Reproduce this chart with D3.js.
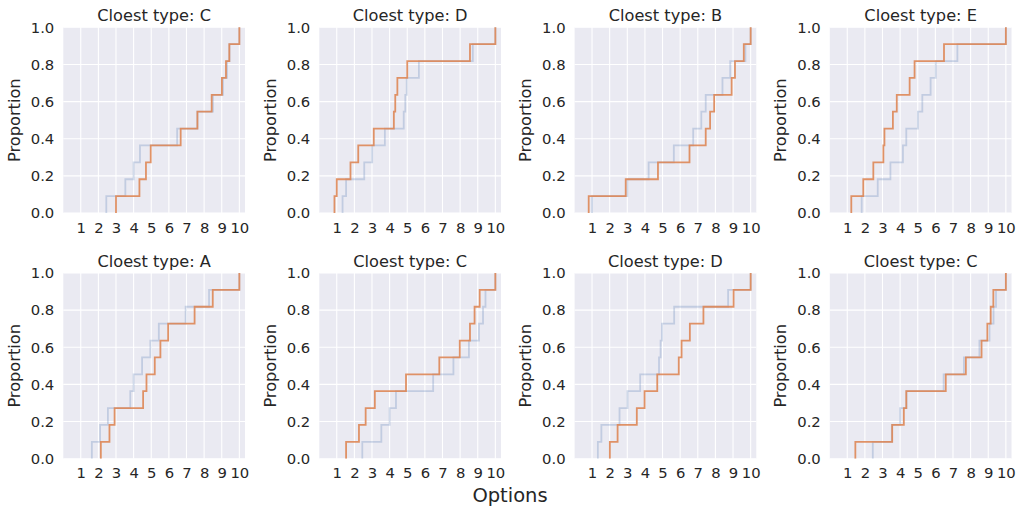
<!DOCTYPE html>
<html>
<head>
<meta charset="utf-8">
<script src="https://cdn.jsdelivr.net/npm/d3@7"></script>
<style>
  html, body { margin: 0; padding: 0; background: #ffffff; }
  svg { display: block; font-family: "DejaVu Sans", sans-serif; }
</style>
</head>
<body>
<svg id="chart" width="1016" height="507"></svg>
<script>
// Panel titles: the type each respondent profile is closest to
const closestTypes = ["C", "D", "B", "E", "A", "C", "D", "C"];

// Reference ECDF curves for each type (option values, sorted)
const typeCurveA = [1.63, 2.10, 2.54, 3.81, 4.00, 4.48, 4.95, 5.43, 6.95, 8.28, 10.0];
const typeCurveB = [1.00, 3.00, 4.21, 5.64, 6.74, 7.20, 7.45, 8.40, 8.84, 9.70, 10.0];
const typeCurveC = [2.45, 3.53, 4.00, 4.36, 6.47, 7.62, 8.50, 9.07, 9.30, 9.44, 10.0];
const typeCurveD = [1.33, 1.53, 2.56, 3.01, 3.73, 4.80, 4.89, 4.97, 5.66, 8.72, 10.0];
const typeCurveE = [1.82, 2.73, 3.45, 4.16, 4.35, 5.01, 5.26, 5.73, 6.02, 7.25, 10.0];

// Observed option values for each profile
const profile1 = [3.00, 4.33, 4.70, 4.97, 6.67, 7.62, 8.43, 9.01, 9.24, 9.43, 10.0];
const profile2 = [0.87, 1.00, 1.78, 2.22, 3.10, 4.24, 4.32, 4.44, 5.00, 8.56, 10.0];
const profile3 = [0.81, 2.91, 4.74, 6.53, 7.45, 7.70, 7.93, 8.92, 9.11, 9.61, 10.0];
const profile4 = [1.23, 1.91, 2.48, 3.05, 3.11, 3.59, 3.81, 4.54, 4.82, 6.49, 10.0];
const profile5 = [2.14, 2.63, 2.92, 4.54, 4.73, 5.20, 5.52, 5.96, 7.46, 8.49, 10.0];
const profile6 = [1.53, 2.26, 2.64, 3.16, 4.93, 6.82, 7.98, 8.56, 8.82, 9.11, 10.0];
const profile7 = [2.01, 2.45, 3.54, 3.98, 4.70, 5.92, 6.08, 6.55, 7.32, 9.03, 10.0];
const profile8 = [1.46, 3.55, 4.21, 4.35, 6.59, 7.73, 8.62, 8.95, 9.14, 9.29, 10.0];

const xTickValues = [1, 2, 3, 4, 5, 6, 7, 8, 9, 10];
const yTickValues = [0, 0.2, 0.4, 0.6, 0.8, 1.0];

const typeCurves = { A: typeCurveA, B: typeCurveB, C: typeCurveC, D: typeCurveD, E: typeCurveE };
const profiles = [profile1, profile2, profile3, profile4, profile5, profile6, profile7, profile8];

const svg = d3.select("#chart");

const colLefts = [63.3, 319.3, 574.6, 829.8];
const rowTops = [27.3, 273.0];
const plotW = 181.7;
const plotH = 185.7;

const x = d3.scaleLinear().domain([0.01, 10.32]).range([0, plotW]);
const y = d3.scaleLinear().domain([0, 1]).range([plotH, 0]);

// ECDF as a post-step line starting at (first value, 0)
function ecdfPoints(vals) {
  const sorted = vals.slice().sort((a, b) => a - b);
  const n = sorted.length;
  const pts = [[sorted[0], 0]];
  sorted.forEach((v, i) => pts.push([v, (i + 1) / n]));
  return pts;
}

const stepLine = d3.line()
  .x(d => x(d[0]))
  .y(d => y(d[1]))
  .curve(d3.curveStepAfter);

const textColor = "#262626";

profiles.forEach((obs, k) => {
  const row = Math.floor(k / 4), col = k % 4;
  const g = svg.append("g")
    .attr("transform", `translate(${colLefts[col]},${rowTops[row]})`);

  g.append("rect")
    .attr("width", plotW).attr("height", plotH)
    .attr("fill", "#eaeaf2");

  // Grid lines
  g.selectAll(".vgrid").data(xTickValues).join("line")
    .attr("x1", d => x(d)).attr("x2", d => x(d))
    .attr("y1", 0).attr("y2", plotH)
    .attr("stroke", "#ffffff").attr("stroke-width", 1.1);
  g.selectAll(".hgrid").data(yTickValues).join("line")
    .attr("x1", 0).attr("x2", plotW)
    .attr("y1", d => y(d)).attr("y2", d => y(d))
    .attr("stroke", "#ffffff").attr("stroke-width", 1.1);

  // Axes (labels only, no spines or tick marks)
  const xAxis = g.append("g")
    .attr("transform", `translate(0,${plotH})`)
    .call(d3.axisBottom(x).tickValues(xTickValues).tickSize(0).tickPadding(9).tickFormat(d3.format("d")));
  const yAxis = g.append("g")
    .call(d3.axisLeft(y).tickValues(yTickValues).tickSize(0).tickPadding(9).tickFormat(d3.format(".1f")));
  [xAxis, yAxis].forEach(a => {
    a.select(".domain").remove();
    a.selectAll("text")
      .attr("fill", textColor)
      .style("font-family", "DejaVu Sans")
      .style("font-size", "14.8px");
  });

  const clipId = "clip" + k;
  g.append("clipPath").attr("id", clipId)
    .append("rect").attr("x", -1).attr("y", -1).attr("width", plotW + 2).attr("height", plotH + 1);

  const lines = g.append("g").attr("clip-path", `url(#${clipId})`);
  lines.append("path")
    .attr("d", stepLine(ecdfPoints(typeCurves[closestTypes[k]])))
    .attr("fill", "none")
    .attr("stroke", "#4c72b0").attr("stroke-opacity", 0.25)
    .attr("stroke-width", 1.8);
  lines.append("path")
    .attr("d", stepLine(ecdfPoints(obs)))
    .attr("fill", "none")
    .attr("stroke", "#dd8452").attr("stroke-opacity", 0.88)
    .attr("stroke-width", 1.8);

  g.append("text")
    .attr("x", plotW / 2).attr("y", -6)
    .attr("text-anchor", "middle")
    .attr("fill", textColor)
    .style("font-size", "16.2px")
    .text("Cloest type: " + closestTypes[k]);

  g.append("text")
    .attr("transform", `translate(-43.5,${plotH / 2}) rotate(-90)`)
    .attr("text-anchor", "middle")
    .attr("fill", textColor)
    .style("font-size", "16.2px")
    .text("Proportion");
});

svg.append("text")
  .attr("x", 510).attr("y", 501.5)
  .attr("text-anchor", "middle")
  .attr("fill", textColor)
  .style("font-size", "19.5px")
  .text("Options");
</script>
</body>
</html>
